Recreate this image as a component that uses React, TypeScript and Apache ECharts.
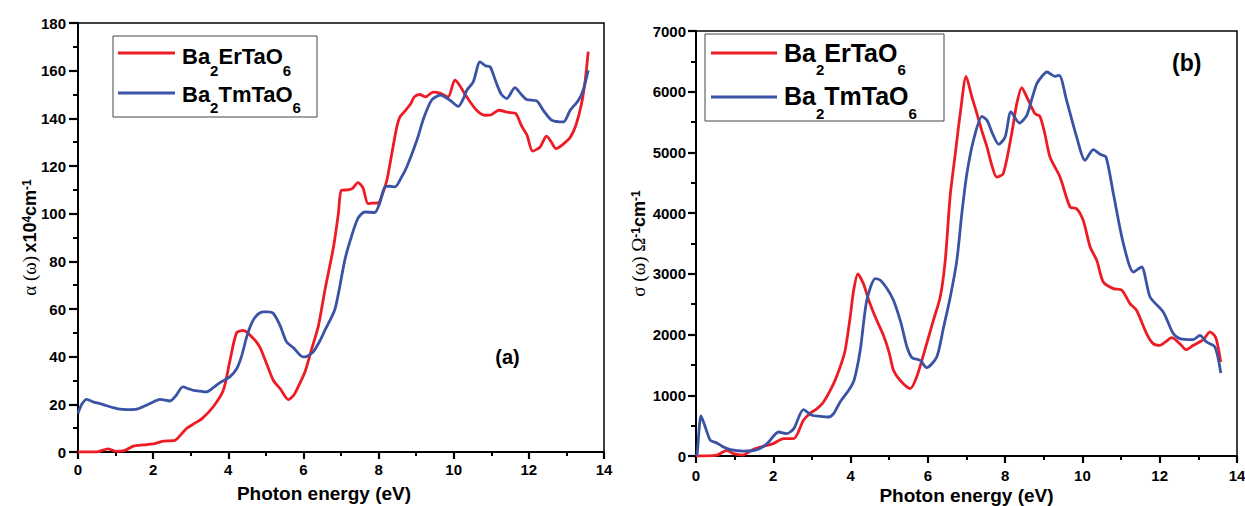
import React, { useEffect, useRef } from "react";
import * as echarts from "echarts";

// ---------- (a) absorption coefficient α(ω) x10^4 cm^-1 ----------
const alphaErE = [0, 0.5, 0.8, 1.0, 1.25, 1.47, 1.75, 2.0, 2.27, 2.58, 2.75, 2.9, 3.1, 3.3, 3.6, 3.87, 4.04, 4.22, 4.4, 4.67, 4.84, 5.02, 5.2, 5.38, 5.6, 5.75, 5.91, 6.05, 6.21, 6.4, 6.57, 6.8, 6.93, 7.01, 7.19, 7.3, 7.45, 7.58, 7.72, 7.85, 7.99, 8.1, 8.22, 8.35, 8.48, 8.57, 8.7, 8.85, 8.95, 9.1, 9.25, 9.45, 9.65, 9.85, 10.03, 10.15, 10.35, 10.61, 10.83, 11.0, 11.2, 11.45, 11.65, 11.8, 11.95, 12.1, 12.3, 12.47, 12.6, 12.72, 12.9, 13.1, 13.25, 13.4, 13.5, 13.58];
const alphaErV = [0, 0, 1.3, 0.3, 0.7, 2.5, 3, 3.4, 4.6, 4.9, 7.5, 10, 12, 14, 19, 26, 38, 50, 51, 47.6, 44, 37, 30, 26.6, 22, 24, 29, 34, 42.7, 53, 67.8, 86, 100, 109.8, 110, 110.5, 113, 111, 104.2, 104.4, 104.5, 108, 114, 125, 136, 140.6, 143, 146, 149, 150, 149, 151, 150.5, 149, 156, 154, 148.9, 143.4, 141.3, 141.5, 143.4, 142.5, 142, 137, 133, 126.2, 128, 132.5, 130, 127.3, 129, 132, 137, 146, 156, 168];

const alphaTmE = [0, 0.1, 0.23, 0.4, 0.59, 0.75, 0.94, 1.1, 1.3, 1.56, 1.8, 2.0, 2.18, 2.45, 2.6, 2.79, 2.95, 3.07, 3.25, 3.42, 3.6, 3.78, 4.04, 4.22, 4.35, 4.49, 4.62, 4.76, 4.93, 5.05, 5.2, 5.38, 5.55, 5.73, 5.99, 6.1, 6.26, 6.45, 6.57, 6.83, 6.95, 7.1, 7.25, 7.45, 7.63, 7.9, 8.02, 8.17, 8.3, 8.44, 8.6, 8.75, 9.02, 9.2, 9.41, 9.64, 9.9, 10.12, 10.25, 10.35, 10.52, 10.7, 10.85, 10.97, 11.14, 11.27, 11.41, 11.63, 11.8, 11.94, 12.21, 12.4, 12.61, 12.92, 13.1, 13.32, 13.45, 13.58];
const alphaTmV = [16.2, 20, 22.1, 21, 20.3, 19.5, 18.6, 18, 17.8, 18, 19.5, 21, 22.1, 21.4, 23.5, 27.3, 26.5, 25.9, 25.5, 25.2, 27, 29.1, 31.5, 34.8, 40, 48.3, 54, 57.4, 58.8, 58.8, 58.1, 53, 46.2, 43.8, 39.9, 40.2, 42, 47, 51, 59.5, 68, 80.4, 89, 98, 100.7, 100.5, 104, 111.2, 111.5, 111.2, 115, 119.6, 130.8, 140, 147.6, 149.7, 147.6, 145, 148, 151.8, 155.3, 163.7, 162, 161.6, 154.6, 150, 148.3, 152.9, 150, 147.9, 147.3, 143, 139.2, 138.5, 143.4, 147.6, 152, 160.2];

// ---------- (b) optical conductivity σ(ω) Ω^-1 cm^-1 ----------
const sigmaErE = [0, 0.54, 0.8, 0.97, 1.2, 1.49, 1.75, 2.0, 2.27, 2.53, 2.78, 2.95, 3.13, 3.3, 3.56, 3.73, 3.86, 3.99, 4.08, 4.19, 4.33, 4.48, 4.64, 4.85, 5.0, 5.11, 5.28, 5.54, 5.71, 5.97, 6.15, 6.32, 6.45, 6.58, 6.71, 6.85, 6.99, 7.14, 7.27, 7.4, 7.53, 7.65, 7.78, 7.95, 8.17, 8.3, 8.43, 8.56, 8.77, 8.9, 9.03, 9.16, 9.42, 9.68, 9.85, 10.02, 10.2, 10.37, 10.54, 10.8, 11.02, 11.23, 11.4, 11.66, 11.83, 12.0, 12.15, 12.31, 12.52, 12.68, 12.87, 13.13, 13.3, 13.45, 13.58];
const sigmaErV = [0, 16, 94, 38, 16, 110, 160, 204, 287, 287, 588, 700, 780, 890, 1193, 1466, 1741, 2290, 2730, 3000, 2840, 2550, 2290, 1988, 1700, 1412, 1247, 1110, 1301, 1851, 2250, 2619, 3223, 4300, 4981, 5700, 6254, 5913, 5640, 5350, 5090, 4800, 4595, 4651, 5310, 5800, 6068, 5913, 5640, 5595, 5300, 4925, 4595, 4101, 4074, 3882, 3442, 3223, 2866, 2757, 2729, 2510, 2400, 2016, 1851, 1823, 1880, 1950, 1851, 1752, 1823, 1917, 2043, 1950, 1548];

const sigmaTmE = [0, 0.03, 0.13, 0.24, 0.37, 0.54, 0.71, 0.89, 1.23, 1.58, 1.84, 2.14, 2.35, 2.53, 2.78, 3.0, 3.21, 3.43, 3.56, 3.73, 3.95, 4.09, 4.25, 4.42, 4.64, 4.77, 4.95, 5.11, 5.3, 5.46, 5.59, 5.8, 5.97, 6.23, 6.4, 6.58, 6.75, 6.88, 7.01, 7.18, 7.4, 7.53, 7.68, 7.83, 8.0, 8.15, 8.37, 8.56, 8.7, 8.82, 8.95, 9.08, 9.29, 9.4, 9.59, 9.85, 10.07, 10.28, 10.46, 10.61, 10.8, 11.06, 11.32, 11.53, 11.75, 12.09, 12.35, 12.52, 12.87, 13.04, 13.21, 13.43, 13.58];
const sigmaTmV = [0, 40, 659, 478, 259, 214, 148, 105, 80, 105, 204, 395, 369, 451, 764, 670, 653, 642, 697, 890, 1082, 1247, 1741, 2565, 2922, 2895, 2750, 2565, 2200, 1795, 1620, 1576, 1456, 1631, 2100, 2619, 3223, 4000, 4651, 5200, 5595, 5530, 5300, 5134, 5255, 5667, 5485, 5612, 5900, 6133, 6250, 6325, 6254, 6270, 5858, 5255, 4871, 5047, 4969, 4925, 4322, 3498, 3031, 3113, 2619, 2372, 2016, 1934, 1917, 1988, 1878, 1795, 1367];

const seriesNames = ["Ba2ErTaO6", "Ba2TmTaO6"];
const legendRich = ["{m|Ba}{s|2}{m|ErTaO}{s|6}", "{m|Ba}{s|2}{m|TmTaO}{s|6}"];
const xRange = { min: 0, max: 14, interval: 2 };
const alphaRange = { min: 0, max: 180, interval: 20 };
const sigmaRange = { min: 0, max: 7000, interval: 1000 };
const panelLabels = ["(a)", "(b)"];

const RED = "#ed1c24";
const BLUE = "#3a53a4";
const SANS = "Liberation Sans";
const SERIF = "Liberation Serif";

const pairs = (xs: number[], ys: number[]) => xs.map((x, i) => [x, ys[i]]);

function axisCommon(fontMargin: number, tickLen: number) {
  return {
    type: "value",
    axisLine: { show: true, onZero: false, lineStyle: { color: "#000", width: 2 } },
    axisTick: { show: true, length: tickLen, lineStyle: { color: "#000", width: 2.2 } },
    minorTick: { show: true, splitNumber: 2, length: Math.round(tickLen * 0.6), lineStyle: { color: "#000", width: 2 } },
    splitLine: { show: false },
    axisLabel: {
      color: "#000",
      fontSize: 15,
      fontWeight: "bold",
      fontFamily: SANS,
      margin: fontMargin,
      formatter: (v: number) => String(v),
    },
    nameMoveOverlap: false,
  };
}

const yNameRich = {
  g: { fontFamily: SERIF, fontSize: 19, color: "#000", lineHeight: 18, padding: [6, 0, 0, 0], verticalAlign: "bottom" },
  b: { fontFamily: SANS, fontWeight: "bold", fontSize: 18, color: "#000", lineHeight: 18, padding: [6, 0, 0, 0], verticalAlign: "bottom" },
  p: { fontFamily: SANS, fontWeight: "bold", fontSize: 12, color: "#000", lineHeight: 12, verticalAlign: "top" },
};

function lineSeries(name: string, data: number[][], color: string, idx: number) {
  return {
    name,
    type: "line",
    xAxisIndex: idx,
    yAxisIndex: idx,
    data,
    showSymbol: false,
    symbol: "none",
    smooth: 0.25,
    lineStyle: { color, width: 2.8 },
    itemStyle: { color },
  };
}

function legendGraphic(
  box: { x: number; y: number; w: number; h: number },
  lineX: [number, number],
  rowY: [number, number],
  textX: number,
  textTop: [number, number],
  mainSize: number,
  mainLH: number,
  subSize: number,
  subPad: number
) {
  const rich = {
    m: { font: `bold ${mainSize}px "${SANS}"`, fontSize: mainSize, fontWeight: "bold", fontFamily: SANS, fill: "#000", lineHeight: mainLH, verticalAlign: "top" },
    s: { font: `bold ${subSize}px "${SANS}"`, fontSize: subSize, fontWeight: "bold", fontFamily: SANS, fill: "#000", lineHeight: subSize, padding: [subPad, 0, 0, 0], verticalAlign: "top" },
  };
  const colors = [RED, BLUE];
  const els: any[] = [
    {
      type: "rect",
      shape: { x: box.x, y: box.y, width: box.w, height: box.h },
      style: { fill: "#fff", stroke: "#444", lineWidth: 1 },
      z: 10,
    },
  ];
  for (let i = 0; i < 2; i++) {
    els.push({
      type: "line",
      shape: { x1: lineX[0], y1: rowY[i], x2: lineX[1], y2: rowY[i] },
      style: { stroke: colors[i], lineWidth: 3 },
      z: 11,
    });
    els.push({
      type: "text",
      x: textX,
      y: textTop[i],
      style: {
        text: legendRich[i],
        rich,
        font: `bold ${mainSize}px "${SANS}"`,
        fill: "#000",
        align: "left",
        verticalAlign: "top",
        textAlign: "left",
        textVerticalAlign: "top",
      },
      z: 11,
    });
  }
  return els;
}

export default function App() {
  const ref = useRef<HTMLDivElement>(null);

  useEffect(() => {
    if (!ref.current) return;
    const chart = echarts.init(ref.current, null, { renderer: "svg" });

    const option: any = {
      animation: false,
      backgroundColor: "#fff",
      grid: [
        { left: 78, top: 23, width: 526, height: 429, show: true, borderColor: "#000", borderWidth: 1.5, containLabel: false, outerBoundsMode: "none" },
        { left: 696, top: 31, width: 541, height: 425, show: true, borderColor: "#000", borderWidth: 1.5, containLabel: false, outerBoundsMode: "none" },
      ],
      xAxis: [
        {
          ...axisCommon(10, 7),
          gridIndex: 0,
          ...xRange,
          name: "Photon energy (eV)",
          nameLocation: "middle",
          nameGap: 32,
          nameTextStyle: { color: "#000", fontSize: 19, fontWeight: "bold", fontFamily: SANS, padding: [0, 34, 0, 0] },
        },
        {
          ...axisCommon(12, 7),
          gridIndex: 1,
          ...xRange,
          name: "Photon energy (eV)",
          nameLocation: "middle",
          nameGap: 30,
          nameTextStyle: { color: "#000", fontSize: 19, fontWeight: "bold", fontFamily: SANS },
        },
      ],
      yAxis: [
        {
          ...axisCommon(12, 9),
          gridIndex: 0,
          ...alphaRange,
          name: "{g|α (ω)} {b|x10}{p|4}{b|cm}{p|-1}",
          nameLocation: "middle",
          nameRotate: 90,
          nameGap: 39,
          nameTextStyle: { rich: yNameRich },
        },
        {
          ...axisCommon(10, 8),
          gridIndex: 1,
          ...sigmaRange,
          name: "{g|σ (ω) Ω}{p|-1}{b|cm}{p|-1}",
          nameLocation: "middle",
          nameRotate: 90,
          nameGap: 48,
          nameTextStyle: { rich: yNameRich },
        },
      ],
      series: [
        lineSeries(seriesNames[0], pairs(alphaErE, alphaErV), RED, 0),
        lineSeries(seriesNames[1], pairs(alphaTmE, alphaTmV), BLUE, 0),
        lineSeries(seriesNames[0], pairs(sigmaErE, sigmaErV), RED, 1),
        lineSeries(seriesNames[1], pairs(sigmaTmE, sigmaTmV), BLUE, 1),
      ],
      graphic: [
        ...legendGraphic({ x: 113, y: 36, w: 204, h: 81 }, [118, 175], [53, 93], 182, [45.8, 83], 22, 24, 15, 17),
        ...legendGraphic({ x: 705, y: 34, w: 239, h: 87 }, [711, 777], [53, 97], 784, [40.2, 83.5], 25, 28, 15, 22),
        {
          type: "text",
          x: 507.5,
          y: 357,
          style: { text: panelLabels[0], font: `bold 20px "${SANS}"`, fill: "#000", align: "center", verticalAlign: "middle", textAlign: "center", textVerticalAlign: "middle" },
          z: 11,
        },
        {
          type: "text",
          x: 1186.7,
          y: 63,
          style: { text: panelLabels[1], font: `bold 23px "${SANS}"`, fill: "#000", align: "center", verticalAlign: "middle", textAlign: "center", textVerticalAlign: "middle" },
          z: 11,
        },
      ],
    };

    chart.setOption(option);
    return () => chart.dispose();
  }, []);

  return (
    <div
      ref={ref}
      style={{ position: "fixed", left: 0, top: 0, width: 1245, height: 506, background: "#fff" }}
    />
  );
}
